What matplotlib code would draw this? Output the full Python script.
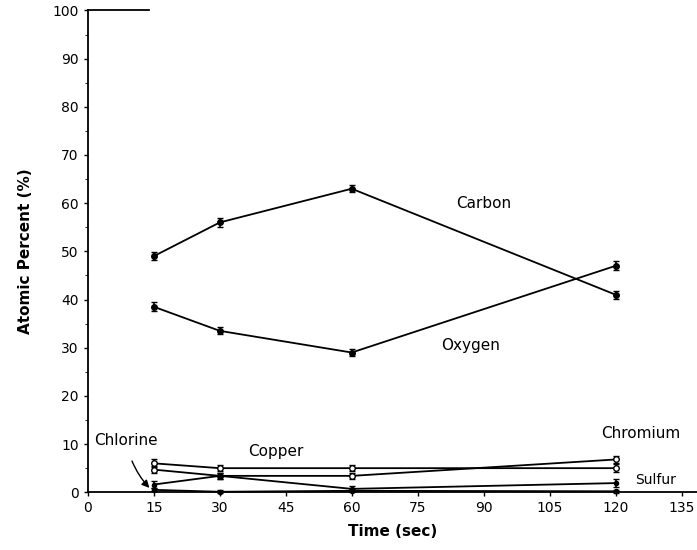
import numpy as np
import matplotlib
matplotlib.use('Agg')
import matplotlib.pyplot as plt

# sputter time (sec)
time = [15, 30, 60, 120]

# atomic percent
carbon = [49.0, 56.0, 63.0, 41.0]
carbon_err = [0.8, 0.9, 0.7, 0.8]
oxygen = [38.5, 33.5, 29.0, 47.0]
oxygen_err = [0.9, 0.7, 0.7, 0.9]
copper = [6.0, 5.0, 5.0, 5.0]
chromium = [4.7, 3.4, 3.4, 6.8]
sulfur = [1.6, 3.4, 0.7, 1.9]
chlorine = [0.5, 0.1, 0.3, 0.2]
small_err = [0.8, 0.6, 0.6, 0.8]

x_ticks = [0, 15, 30, 45, 60, 75, 90, 105, 120, 135]
y_ticks = [0, 10, 20, 30, 40, 50, 60, 70, 80, 90, 100]

fig = plt.figure(figsize=(6.97, 5.5), dpi=100)
ax = fig.add_axes([0.126, 0.105, 0.874, 0.876])

lw = 1.3
ax.errorbar(time, carbon, yerr=carbon_err, color='black', lw=lw, marker='o', ms=4,
            capsize=2.5, elinewidth=1.2)
ax.errorbar(time, oxygen, yerr=oxygen_err, color='black', lw=lw, marker='o', ms=4,
            capsize=2.5, elinewidth=1.2)
ax.errorbar(time, copper, yerr=small_err, color='black', lw=lw, marker='o', ms=4,
            mfc='white', capsize=2, elinewidth=1.2)
ax.errorbar(time, chromium, yerr=small_err, color='black', lw=lw, marker='o', ms=4,
            mfc='white', capsize=2, elinewidth=1.2)
ax.errorbar(time, sulfur, yerr=small_err, color='black', lw=lw, marker='o', ms=3,
            capsize=2, elinewidth=1.2)
ax.errorbar(time, chlorine, yerr=[0.3] * 4, color='black', lw=lw, marker='o', ms=3,
            capsize=2, elinewidth=1.2, clip_on=False)

fs = 11
ax.text(90, 60, 'Carbon', fontsize=fs, ha='center', va='center')
ax.text(87, 30.5, 'Oxygen', fontsize=fs, ha='center', va='center')
ax.text(42.7, 8.4, 'Copper', fontsize=fs, ha='center', va='center')
ax.text(125.6, 12.2, 'Chromium', fontsize=fs, ha='center', va='center')
ax.text(129, 2.6, 'Sulfur', fontsize=fs - 1, ha='center', va='center')
ax.annotate('Chlorine', xy=(14, 0.9), xytext=(8.7, 10.8), fontsize=fs,
            ha='center', va='center',
            arrowprops=dict(arrowstyle='-|>', color='black', lw=1.0,
                            connectionstyle='arc3,rad=0.15',
                            shrinkA=8, shrinkB=0))

ax.set_xlim(0, 138.5)
ax.set_ylim(0, 100)
ax.set_xticks(x_ticks)
ax.set_yticks(y_ticks)
ax.set_yticks(np.arange(5, 100, 10), minor=True)
ax.tick_params(axis='both', labelsize=10, length=3, width=1, direction='out')
ax.tick_params(axis='y', which='minor', length=2)

ax.spines['top'].set_visible(False)
ax.spines['right'].set_visible(False)
ax.spines['left'].set_linewidth(1.3)
ax.spines['bottom'].set_linewidth(1.3)
# short stub of top frame left in the scan
ax.axhline(100, xmin=0, xmax=0.1, color='black', lw=1.3, clip_on=False)

ax.set_xlabel('Time (sec)', fontsize=11, fontweight='bold', labelpad=6)
ax.set_ylabel('Atomic Percent (%)', fontsize=11, fontweight='bold', labelpad=14)

plt.savefig('out.png', dpi=100)
plt.close()
